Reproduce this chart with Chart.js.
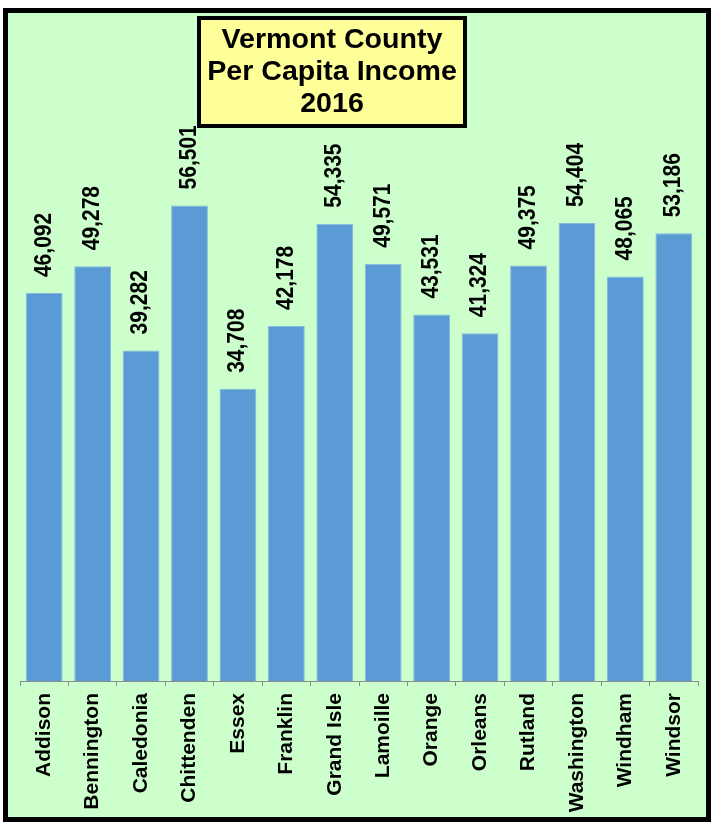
<!DOCTYPE html>
<html>
<head>
<meta charset="utf-8">
<script src="https://cdn.jsdelivr.net/npm/chart.js@4"></script>
<style>
    body { margin: 0; background: #ffffff; }
    #frame {
        position: absolute;
        left: 3px;
        top: 8px;
        width: 698px;
        height: 804px;
        border: 5px solid #000000;
        background: #CCFFCC;
    }
</style>
</head>
<body>
<div id="frame"><canvas id="incomeChart" width="698" height="804"></canvas></div>
<script>
// Chart values
const counties = ["Addison", "Bennington", "Caledonia", "Chittenden", "Essex", "Franklin", "Grand Isle",
    "Lamoille", "Orange", "Orleans", "Rutland", "Washington", "Windham", "Windsor"];
const incomes = [46092, 49278, 39282, 56501, 34708, 42178, 54335, 49571, 43531, 41324, 49375, 54404, 48065, 53186];
const titleLines = ["Vermont County", "Per Capita Income", "2016"];

const FONT = "'Liberation Sans', Arial, sans-serif";

// Yellow title box in the upper part of the chart
const titleBox = {
    id: "titleBox",
    afterDraw(chart) {
        const ctx = chart.ctx;
        ctx.save();
        ctx.fillStyle = "#FFFF99";
        ctx.fillRect(191, 5, 266, 108);
        ctx.lineWidth = 4;
        ctx.strokeStyle = "#000000";
        ctx.strokeRect(191, 5, 266, 108);
        ctx.fillStyle = "#000000";
        ctx.font = "bold 27px " + FONT;
        ctx.textAlign = "center";
        ctx.textBaseline = "alphabetic";
        titleLines.forEach((line, i) => {
            ctx.save();
            ctx.translate(324, 35 + i * 32);
            ctx.scale(1.06, 1);  // the original lettering is a bit wider
            ctx.fillText(line, 0, 0);
            ctx.restore();
        });
        ctx.restore();
    }
};

// Vertical value labels above each bar
const barLabels = {
    id: "barLabels",
    afterDatasetsDraw(chart) {
        const ctx = chart.ctx;
        const meta = chart.getDatasetMeta(0);
        ctx.save();
        ctx.fillStyle = "#000000";
        ctx.font = "bold 21px " + FONT;
        ctx.textAlign = "left";
        ctx.textBaseline = "middle";
        meta.data.forEach((bar, i) => {
            ctx.save();
            ctx.translate(bar.x, bar.y - 16);
            ctx.rotate(-Math.PI / 2);
            ctx.scale(1, 1.1);
            ctx.fillText(incomes[i].toLocaleString("en-US"), 0, 0);
            ctx.restore();
        });
        ctx.restore();
    }
};

const ctx = document.getElementById("incomeChart").getContext("2d");
new Chart(ctx, {
    type: "bar",
    data: {
        labels: counties,
        datasets: [{
            label: "Per Capita Income",
            data: incomes,
            backgroundColor: "#5B9BD5",
            borderColor: "#86B6E2",
            borderWidth: 1,
            barPercentage: 0.76,
            categoryPercentage: 1.0
        }]
    },
    options: {
        responsive: false,
        animation: false,
        layout: { padding: { left: 12, top: 163, right: 0, bottom: 0 } },
        plugins: {
            legend: { display: false },
            title: { display: false },
            tooltip: { enabled: false }
        },
        scales: {
            x: {
                offset: true,
                afterFit: scale => { scale.height = 136; },
                grid: {
                    offset: true,
                    drawOnChartArea: false,
                    drawTicks: true,
                    tickLength: 5,
                    color: "#8C8C8C"
                },
                border: { display: true, color: "#8C8C8C", width: 1 },
                ticks: {
                    minRotation: 90,
                    maxRotation: 90,
                    autoSkip: false,
                    padding: 7,
                    color: "#000000",
                    font: { family: FONT, size: 21, weight: "bold" }
                }
            },
            y: {
                display: false,
                min: 0,
                max: 60000
            }
        }
    },
    plugins: [titleBox, barLabels]
});
</script>
</body>
</html>
